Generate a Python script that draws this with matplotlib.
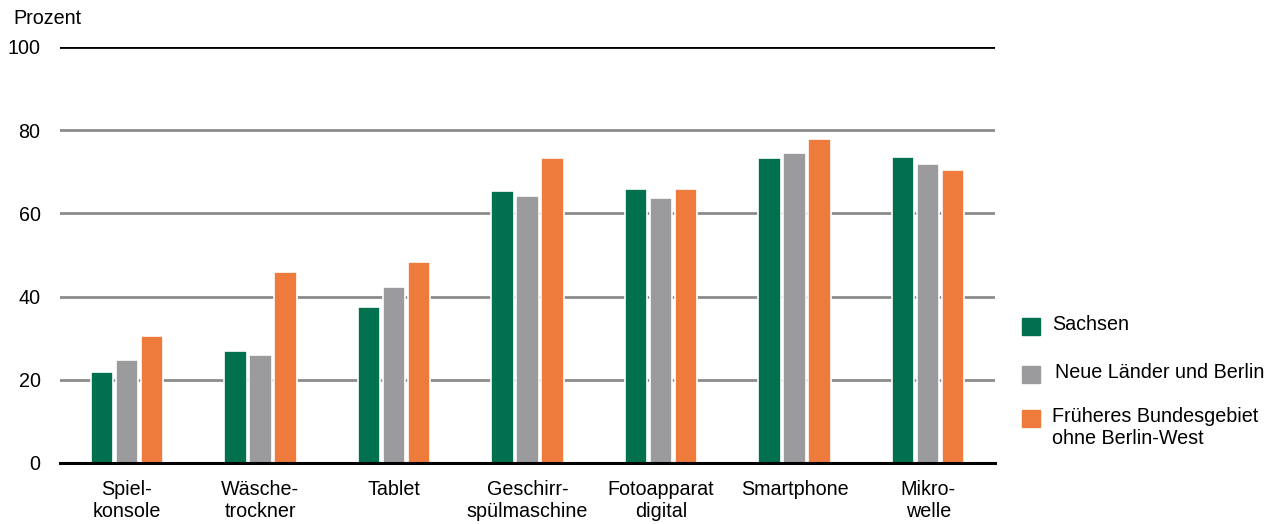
import numpy as np
import matplotlib
matplotlib.use('Agg')
import matplotlib.pyplot as plt
from matplotlib.patches import Rectangle

plt.rcParams['font.family'] = ['Liberation Sans', 'DejaVu Sans']

# data
categories = ['Spiel-\nkonsole', 'Wäsche-\ntrockner', 'Tablet', 'Geschirr-\nspülmaschine',
              'Fotoapparat\ndigital', 'Smartphone', 'Mikro-\nwelle']
sachsen = [21.9, 26.9, 37.5, 65.5, 65.9, 73.3, 73.6]
neue_laender = [24.8, 26.0, 42.3, 64.2, 63.7, 74.5, 71.8]
frueheres_bg = [30.5, 45.9, 48.3, 73.2, 65.8, 78.0, 70.4]
series_names = ['Sachsen', 'Neue Länder und Berlin', 'Früheres Bundesgebiet\nohne Berlin-West']
colors = ['#00704F', '#9B9B9D', '#EE7A3C']

fs = 14.2

fig = plt.figure(figsize=(12.81, 5.24), dpi=100)
ax = fig.add_axes([60/1281, 1-463/524, 935/1281, 416/524])

x = np.arange(len(categories))
w = 0.168
step = 0.187
for i, (vals, c) in enumerate(zip([sachsen, neue_laender, frueheres_bg], colors)):
    ax.bar(x + (i-1)*step, vals, width=w, color=c, edgecolor='white', linewidth=1.2, zorder=3)

ax.set_xlim(-0.5, len(categories)-0.5)
ax.set_ylim(0, 100)
ax.set_yticks([0, 20, 40, 60, 80, 100])
for yv in [20, 40, 60, 80]:
    ax.axhline(yv, color='#8C8C8C', lw=2, zorder=1)
ax.axhline(100, color='black', lw=2, zorder=1)

for s in ['top', 'right', 'left']:
    ax.spines[s].set_visible(False)
ax.spines['bottom'].set_linewidth(2.2)
ax.spines['bottom'].set_zorder(4)

ax.set_xticks(x)
ax.set_xticklabels(categories, fontsize=fs, va='top', linespacing=1.25)
ax.tick_params(axis='x', length=0, pad=12)
ax.tick_params(axis='y', length=0, pad=14, labelsize=fs)

fig.text(13/1281, 1-18/524, 'Prozent', fontsize=fs, va='center', ha='left')

# legend
leg_y = [326, 374, 418]
text_x = [1052, 1055, 1052]
for name, c, yy, tx in zip(series_names, colors, leg_y, text_x):
    fig.patches.append(Rectangle((1022/1281, 1-(yy+8.5)/524), 18/1281, 17/524,
                                 transform=fig.transFigure, color=c, figure=fig))
    fig.text(tx/1281, 1-(yy-11)/524, name, fontsize=fs, va='top', ha='left', linespacing=1.2)

fig.savefig('out.png', dpi=100)
